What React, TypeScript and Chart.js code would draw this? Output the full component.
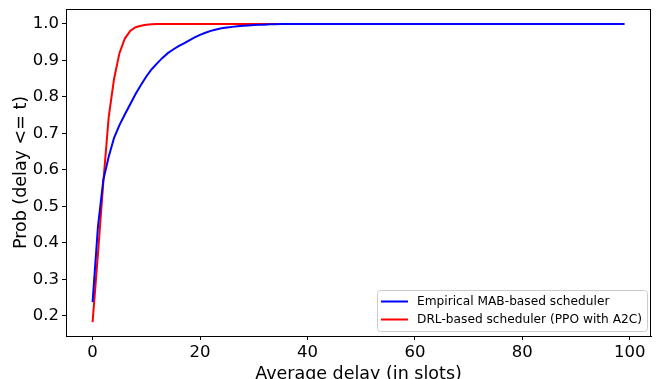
import React, { useEffect, useRef } from "react";
import { Chart, registerables } from "chart.js";

Chart.register(...registerables);

const delays: number[] = [
  0, 1, 2, 3, 4, 5, 6, 7, 8, 9, 10, 11, 12, 13, 14, 15, 16, 17, 18, 19, 20,
  21, 22, 23, 24, 25, 26, 27, 28, 29, 30, 31, 32, 33, 34, 35, 40, 50, 60, 70,
  80, 90, 99,
];

const mabCdf: number[] = [
  0.238, 0.445, 0.573, 0.636, 0.688, 0.723, 0.752, 0.78, 0.808, 0.833, 0.856,
  0.876, 0.892, 0.907, 0.92, 0.93, 0.939, 0.947, 0.955, 0.963, 0.97, 0.976,
  0.981, 0.985, 0.988, 0.99, 0.992, 0.994, 0.995, 0.996, 0.997, 0.998, 0.998,
  0.999, 0.999, 1.0, 1.0, 1.0, 1.0, 1.0, 1.0, 1.0, 1.0,
];

const drlCdf: number[] = [
  0.183, 0.37, 0.567, 0.745, 0.85, 0.92, 0.96, 0.981, 0.991, 0.995, 0.998,
  0.999, 1.0, 1.0, 1.0, 1.0, 1.0, 1.0, 1.0, 1.0, 1.0, 1.0, 1.0, 1.0, 1.0, 1.0,
  1.0, 1.0, 1.0, 1.0, 1.0, 1.0, 1.0, 1.0, 1.0, 1.0, 1.0, 1.0, 1.0, 1.0, 1.0,
  1.0, 1.0,
];

const seriesLabels: string[] = [
  "Empirical MAB-based scheduler",
  "DRL-based scheduler (PPO with A2C)",
];
const seriesColors: string[] = ["#0000ff", "#ff0000"];

const xTicks: number[] = [0, 20, 40, 60, 80, 100];
const yTicks: number[] = [0.2, 0.3, 0.4, 0.5, 0.6, 0.7, 0.8, 0.9, 1.0];

const xTitle = "Average delay (in slots)";
const yTitle = "Prob (delay <= t)";

const FONT = "'DejaVu Sans', sans-serif";

const overlayPlugin = {
  id: "overlay",
  afterDraw(chart: any) {
    const { ctx, chartArea } = chart;
    const { left, right, top, bottom } = chartArea;
    ctx.save();
    // frame
    ctx.strokeStyle = "#000";
    ctx.lineWidth = 1;
    ctx.strokeRect(left + 0.5, top + 0.5, right - left - 1, bottom - top);

    // axis titles
    ctx.fillStyle = "#000";
    ctx.font = `17.5px ${FONT}`;
    ctx.textAlign = "center";
    ctx.textBaseline = "alphabetic";
    ctx.fillText(xTitle, (left + right) / 2, 379);
    ctx.save();
    ctx.translate(26, (top + bottom) / 2);
    ctx.rotate(-Math.PI / 2);
    ctx.fillText(yTitle, 0, 0);
    ctx.restore();

    // legend
    const lx = right - 274;
    const ly = bottom - 46;
    const lw = 270;
    const lh = 41;
    ctx.beginPath();
    (ctx as any).roundRect(lx + 0.5, ly + 0.5, lw, lh, 3);
    ctx.fillStyle = "rgba(255,255,255,0.8)";
    ctx.fill();
    ctx.strokeStyle = "#cccccc";
    ctx.lineWidth = 1;
    ctx.stroke();
    ctx.font = `12.2px ${FONT}`;
    ctx.textAlign = "left";
    ctx.textBaseline = "middle";
    seriesLabels.forEach((lab, i) => {
      const yy = ly + 11.5 + i * 18;
      ctx.strokeStyle = seriesColors[i];
      ctx.lineWidth = 2;
      ctx.beginPath();
      ctx.moveTo(lx + 4, yy);
      ctx.lineTo(lx + 31, yy);
      ctx.stroke();
      ctx.fillStyle = "#000";
      ctx.fillText(lab, lx + 40, yy);
    });
    ctx.restore();
  },
};

export default function App() {
  const ref = useRef<HTMLCanvasElement | null>(null);
  useEffect(() => {
    if (!ref.current) return;
    const mk = (vals: number[]) => delays.map((d, i) => ({ x: d, y: vals[i] }));
    const chart = new Chart(ref.current, {
      type: "line",
      data: {
        datasets: [
          {
            label: seriesLabels[0],
            data: mk(mabCdf),
            borderColor: seriesColors[0],
            borderWidth: 2,
            pointRadius: 0,
            tension: 0,
            fill: false,
          },
          {
            label: seriesLabels[1],
            data: mk(drlCdf),
            borderColor: seriesColors[1],
            borderWidth: 2,
            pointRadius: 0,
            tension: 0,
            fill: false,
          },
        ],
      },
      options: {
        responsive: false,
        animation: false,
        devicePixelRatio: 1,
        layout: { padding: { top: 9, right: 6, left: 0, bottom: 0 } },
        plugins: {
          legend: { display: false },
          tooltip: { enabled: false },
        },
        scales: {
          x: {
            type: "linear",
            min: -4.95,
            max: 103.95,
            afterBuildTicks: (s: any) => {
              s.ticks = xTicks.map((v) => ({ value: v }));
            },
            afterFit: (s: any) => {
              s.height = 43;
              s.paddingLeft = 0;
              s.paddingRight = 0;
            },
            ticks: {
              color: "#000",
              font: { family: FONT, size: 16.5 },
              padding: 3,
              maxRotation: 0,
              autoSkip: false,
              callback: (v: any) => String(v),
            },
            grid: {
              drawOnChartArea: false,
              drawTicks: true,
              tickLength: 4,
              tickColor: "#000",
            },
            border: { display: true, color: "#000" },
          },
          y: {
            type: "linear",
            min: 0.145,
            max: 1.041,
            afterBuildTicks: (s: any) => {
              s.ticks = yTicks.map((v) => ({ value: v }));
            },
            afterFit: (s: any) => {
              s.width = 66;
              s.paddingTop = 0;
              s.paddingBottom = 0;
            },
            ticks: {
              color: "#000",
              font: { family: FONT, size: 16.5 },
              padding: 3,
              autoSkip: false,
              callback: (v: any) => Number(v).toFixed(1),
            },
            grid: {
              drawOnChartArea: false,
              drawTicks: true,
              tickLength: 4,
              tickColor: "#000",
            },
            border: { display: true, color: "#000" },
          },
        },
      },
      plugins: [overlayPlugin],
    });
    return () => chart.destroy();
  }, []);
  return (
    <div style={{ position: "fixed", left: 0, top: 0, width: 657, height: 379, background: "#fff" }}>
      <canvas ref={ref} width={657} height={379} style={{ display: "block" }} />
    </div>
  );
}
